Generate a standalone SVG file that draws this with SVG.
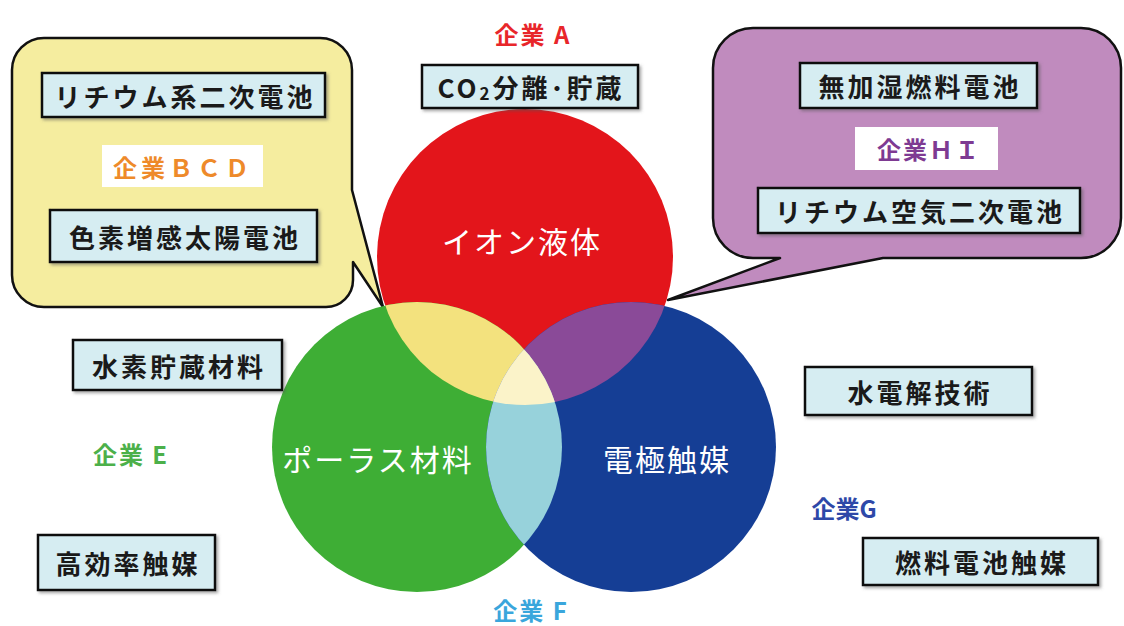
<svg xmlns="http://www.w3.org/2000/svg" width="1124" height="626" viewBox="0 0 1124 626">
<style>
.bx{fill:#D6EDF2;stroke:#111;stroke-width:2.5;filter:url(#sh)}
.bt{font-family:"Noto Sans CJK JP","Noto Sans",sans-serif;font-weight:bold;font-size:26px;fill:#1a1a1a;text-anchor:middle;dominant-baseline:central;letter-spacing:3px}
.ct{font-family:"Noto Sans CJK JP","Noto Sans",sans-serif;font-size:30px;fill:#fff;text-anchor:middle;dominant-baseline:central;letter-spacing:2px}
.co{font-family:"Noto Sans CJK JP","Liberation Sans",sans-serif;font-weight:bold;font-size:24px;text-anchor:middle;dominant-baseline:central;letter-spacing:2px}
.call{stroke:#111;stroke-width:2.5;stroke-linejoin:round}
</style>
<defs>
<filter id="sh" x="-10%" y="-20%" width="130%" height="150%"><feDropShadow dx="2" dy="2" stdDeviation="1.5" flood-color="#555" flood-opacity="0.5"/></filter>
<clipPath id="cR"><circle cx="525" cy="257" r="148"/></clipPath>
<clipPath id="cB"><circle cx="631" cy="447" r="145"/></clipPath>
</defs>
<rect width="1124" height="626" fill="#fff"/>

<g id="callout-bcd">
<path class="call" fill="#F5ED9F" d="M44,38 H320 A32,32 0 0 1 352,70 V190 L383,307 L353,262 V280 A27,27 0 0 1 326,307 H44 A32,32 0 0 1 12,275 V70 A32,32 0 0 1 44,38 Z"/>
</g>
<g id="callout-hi">
<path class="call" fill="#C08BBE" d="M753,28 H1081 A40,40 0 0 1 1121,68 V218 A40,40 0 0 1 1081,258 H883 L668,300 L780,258 H753 A40,40 0 0 1 713,218 V68 A40,40 0 0 1 753,28 Z"/>
</g>

<g id="venn">
<circle id="c-ion" cx="525" cy="257" r="148" fill="#E3151B"/>
<circle id="c-porous" cx="417" cy="447" r="145" fill="#3EAE35"/>
<circle id="c-electrode" cx="631" cy="447" r="145" fill="#153E95"/>
<circle cx="417" cy="447" r="145" fill="#F3E27E" clip-path="url(#cR)"/>
<circle cx="631" cy="447" r="145" fill="#8A4A98" clip-path="url(#cR)"/>
<circle cx="417" cy="447" r="145" fill="#97D2DB" clip-path="url(#cB)"/>
<g clip-path="url(#cR)"><circle cx="417" cy="447" r="145" fill="#FBF3C9" clip-path="url(#cB)"/></g>
<text class="ct" x="522" y="240">イオン液体</text>
<text class="ct" x="378" y="458">ポーラス材料</text>
<text class="ct" x="667" y="458">電極触媒</text>
</g>

<g id="box-li2">
<rect class="bx" x="42" y="73" width="283" height="44"/>
<text class="bt" x="185" y="95">リチウム系二次電池</text>
</g>
<g id="label-bcd">
<rect x="102" y="145" width="161" height="42" fill="#fff"/>
<text class="co" x="183" y="166" fill="#EE8A2A" style="letter-spacing:4px">企業ＢＣＤ</text>
</g>
<g id="box-dssc">
<rect class="bx" x="50" y="210" width="267" height="52"/>
<text class="bt" x="185" y="236">色素増感太陽電池</text>
</g>
<g id="label-a">
<text class="co" x="533" y="33" fill="#E8262A">企業 A</text>
</g>
<g id="box-co2">
<rect class="bx" x="422" y="65" width="216" height="43"/>
<text class="bt" x="531" y="86">CO<tspan font-size="17" dy="6">2</tspan><tspan dy="-6">分離･貯蔵</tspan></text>
</g>
<g id="box-fc">
<rect class="bx" x="800" y="63" width="237" height="45"/>
<text class="bt" x="920" y="85">無加湿燃料電池</text>
</g>
<g id="label-hi">
<rect x="855" y="127" width="143" height="43" fill="#fff"/>
<text class="co" x="929" y="148" fill="#7E3A92">企業ＨＩ</text>
</g>
<g id="box-liair">
<rect class="bx" x="758" y="188" width="322" height="45"/>
<text class="bt" x="920" y="210">リチウム空気二次電池</text>
</g>
<g id="box-h2">
<rect class="bx" x="73" y="340" width="209" height="50"/>
<text class="bt" x="179" y="365">水素貯蔵材料</text>
</g>
<g id="label-e">
<text class="co" x="131" y="453" fill="#4CB04A">企業 E</text>
</g>
<g id="box-cat">
<rect class="bx" x="38" y="535" width="177" height="55"/>
<text class="bt" x="128" y="562">高効率触媒</text>
</g>
<g id="box-elec">
<rect class="bx" x="805" y="367" width="227" height="48"/>
<text class="bt" x="920" y="391">水電解技術</text>
</g>
<g id="label-g">
<text class="co" x="844" y="507" fill="#2E48A8" style="letter-spacing:0">企業G</text>
</g>
<g id="box-fccat">
<rect class="bx" x="863" y="538" width="235" height="47"/>
<text class="bt" x="982" y="561">燃料電池触媒</text>
</g>
<g id="label-f">
<text class="co" x="531" y="609" fill="#3AA6DC">企業 F</text>
</g>
<g id="connectors"></g>
</svg>
